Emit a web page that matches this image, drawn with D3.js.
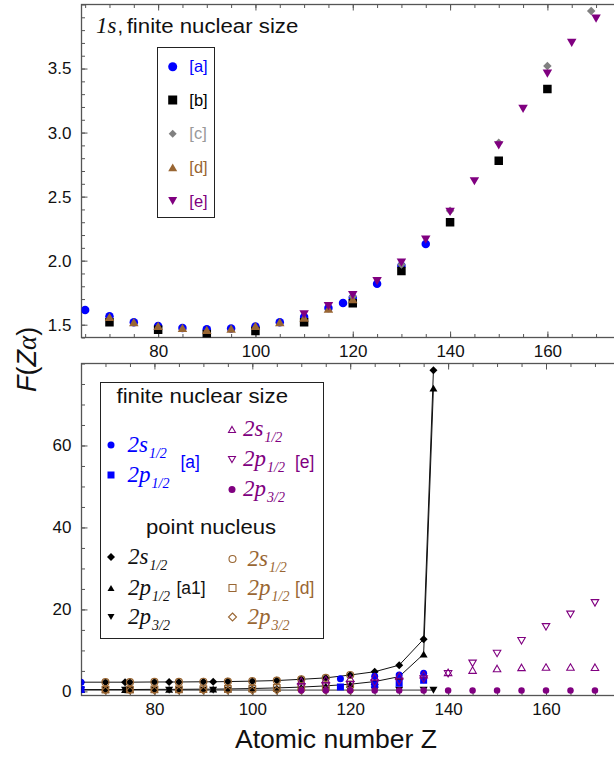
<!DOCTYPE html>
<html><head><meta charset="utf-8">
<script src="https://cdn.jsdelivr.net/npm/d3@7"></script>
<style>body{margin:0;background:#fff}svg{display:block}</style>
</head><body>
<svg id="c" width="614" height="758"></svg>
<script>
// ---------- DATA: top panel (1s, finite nuclear size) ----------
const topZa = [65,70,75,80,85,90,95,100,105,110,115,118,120,125,130,135];
const topA  = [1.615,1.565,1.52,1.49,1.475,1.465,1.47,1.485,1.52,1.56,1.63,1.67,1.71,1.82,1.96,2.13];
const topZb = [70,80,90,100,110,120,130,140,150,160];
const topB  = [1.52,1.46,1.425,1.45,1.52,1.667,1.92,2.30,2.78,3.34];
const topZc = [120,130,140,150,160,169];
const topC  = [1.72,1.97,2.39,2.92,3.52,3.95];
const topZd = [70,75,80,85,90,95,100,105,110,115,120];
const topD  = [1.56,1.52,1.49,1.475,1.46,1.47,1.49,1.52,1.555,1.625,1.70];
const topZe = [110,115,120,125,130,135,140,145,150,155,160,165,170];
const topE  = [1.58,1.645,1.73,1.84,1.985,2.165,2.38,2.62,2.90,3.185,3.46,3.70,3.89];

// ---------- DATA: bottom panel (2s/2p) ----------
// point nucleus [a1] (black, joined)
const botZa1 = [65,70,74,75,80,83,85,90,92,95,100,105,110,115,120,125,130,135,137];
const a1_2s  = [2.25,2.25,2.25,2.25,2.3,2.3,2.3,2.35,2.35,2.4,2.5,2.65,2.95,3.3,4.0,4.8,6.4,12.75,78.35];
const a1_2p1 = [0.45,0.45,0.45,0.45,0.5,0.5,0.5,0.55,0.55,0.6,0.7,0.85,1.05,1.35,1.75,2.4,3.6,9.1,74.0];
const a1_2p3 = [0.3,0.3,0.3,0.3,0.3,0.3,0.3,0.3,0.3,0.3,0.3,0.3,0.3,0.3,0.3,0.3,0.3,0.3,0.3];
// point nucleus [d] (brown, open)
const botZd = [70,75,80,85,90,95,100,105,110,115,120];
const d_2s  = [2.25,2.25,2.3,2.3,2.35,2.4,2.5,2.65,2.95,3.3,4.0];
const d_2p1 = [0.45,0.45,0.5,0.5,0.55,0.6,0.7,0.85,1.05,1.35,1.75];
const d_2p3 = [0.25,0.25,0.25,0.25,0.25,0.25,0.25,0.25,0.25,0.25,0.25];
// finite nuclear size [a] (blue)
const botZa = [65,118,125,130,135];
const a_2s  = [2.25,3.1,3.7,4.0,4.4];
const a_2p1 = [0.45,1.05,1.6,2.0,2.7];
// finite nuclear size [e] (purple)
const botZe = [110,115,120,125,130,135,140,145,150,155,160,165,170];
const e_2s  = [2.6,2.9,3.2,3.5,3.8,4.1,4.65,5.2,5.6,5.85,5.95,5.95,5.9];
const e_2p1 = [1.1,1.3,1.6,2.0,2.4,3.0,4.3,6.85,9.25,12.35,15.75,18.8,21.6];
const e_2p3 = [0.2,0.2,0.2,0.2,0.2,0.2,0.25,0.25,0.25,0.25,0.25,0.25,0.25];

// ---------- ticks ----------
const xMajor = [80,100,120,140,160];
const xMinor = d3.range(65,176,5);
const topYMajor = [1.5,2.0,2.5,3.0,3.5];
const topYMinor = d3.range(14,41).map(v=>v/10);
const botYMajor = [0,20,40,60];
const botYMinor = d3.range(0,81,5);

// ---------- setup ----------
const BLUE='#0000ff', PURPLE='#800080', BROWN='#996633', GRAY='#808080', FRAME='#555';
const SANS='"Liberation Sans", Arial, sans-serif', SERIF='"Liberation Serif", "Times New Roman", serif';
const svg = d3.select('#c');

const xTop = d3.scaleLinear().domain([64.25,174.1]).range([81.5,616]);
const yTop = d3.scaleLinear().domain([1.40,4.0]).range([337.5,4.5]);
const xBot = d3.scaleLinear().domain([65.1,174.3]).range([81.5,616]);
const yBot = d3.scaleLinear().domain([-1,80]).range([695.5,363.5]);

function shape(type, s){
  const h=s/2;
  switch(type){
    case 'circle': return `M${h},0A${h},${h} 0 1,1 ${-h},0A${h},${h} 0 1,1 ${h},0Z`;
    case 'square': return `M${-h},${-h}H${h}V${h}H${-h}Z`;
    case 'diamond': return `M0,${-h}L${h},0L0,${h}L${-h},0Z`;
    case 'up': { const t=s*0.866; return `M0,${-t/2}L${h},${t/2}L${-h},${t/2}Z`; }
    case 'down': { const t=s*0.866; return `M0,${t/2}L${h},${-t/2}L${-h},${-t/2}Z`; }
  }
}
function marks(g, xs, ys, Z, V, type, s, fill, stroke, sw){
  g.append('g').selectAll('path').data(Z.map((z,i)=>[z,V[i]])).enter().append('path')
    .attr('transform', d=>`translate(${xs(d[0])},${ys(d[1])})`)
    .attr('d', shape(type,s))
    .attr('fill', fill).attr('stroke', stroke||'none').attr('stroke-width', sw||1);
}
function styleAxis(g){
  g.select('.domain').remove();
  g.selectAll('line').attr('stroke',FRAME).attr('stroke-width',1);
  g.selectAll('text').attr('fill','#111').style('font-family',SANS).style('font-size','17px');
}
function panel(xs, ys, yMaj, yMin, yFmt, clipId){
  const [x0,x1]=xs.range(), [y0,y1]=ys.range();
  const gb = svg.append('g').attr('transform',`translate(0,${y0})`);
  gb.call(d3.axisBottom(xs).tickValues(xMajor).tickSize(-6).tickPadding(7).tickFormat(d3.format('d'))); styleAxis(gb);
  const gbm = svg.append('g').attr('transform',`translate(0,${y0})`);
  gbm.call(d3.axisBottom(xs).tickValues(xMinor).tickSize(-3.5).tickFormat('')); styleAxis(gbm);
  const gt = svg.append('g').attr('transform',`translate(0,${y1})`);
  gt.call(d3.axisTop(xs).tickValues(xMajor).tickSize(-6).tickFormat('')); styleAxis(gt);
  const gtm = svg.append('g').attr('transform',`translate(0,${y1})`);
  gtm.call(d3.axisTop(xs).tickValues(xMinor).tickSize(-3.5).tickFormat('')); styleAxis(gtm);
  const gl = svg.append('g').attr('transform',`translate(${x0},0)`);
  gl.call(d3.axisLeft(ys).tickValues(yMaj).tickSize(-6).tickPadding(10).tickFormat(yFmt)); styleAxis(gl);
  const glm = svg.append('g').attr('transform',`translate(${x0},0)`);
  glm.call(d3.axisLeft(ys).tickValues(yMin).tickSize(-3.5).tickFormat('')); styleAxis(glm);
  svg.append('rect').attr('x',x0).attr('y',y1).attr('width',x1-x0).attr('height',y0-y1)
    .attr('fill','none').attr('stroke',FRAME).attr('stroke-width',1.3);
  svg.append('clipPath').attr('id',clipId).append('rect')
    .attr('x',x0).attr('y',y1).attr('width',x1-x0).attr('height',y0-y1);
  return svg.append('g').attr('clip-path',`url(#${clipId})`);
}

// ---------- TOP PANEL ----------
const gTop = panel(xTop, yTop, topYMajor, topYMinor, d3.format('.1f'), 'clipTop');
marks(gTop,xTop,yTop,topZa,topA,'circle',8.5,BLUE);
marks(gTop,xTop,yTop,topZb,topB,'square',8.5,'#000');
marks(gTop,xTop,yTop,topZc,topC,'diamond',8.5,GRAY);
marks(gTop,xTop,yTop,topZd,topD,'up',9.5,BROWN);
marks(gTop,xTop,yTop,topZe,topE,'down',9.5,PURPLE);

// title
svg.append('text').attr('x',96).attr('y',33).attr('fill','#111')
  .style('font-family',SERIF).style('font-style','italic').style('font-size','23px').text('1s');
svg.append('text').attr('x',117.5).attr('y',33).attr('fill','#111')
  .style('font-family',SANS).style('font-size','20px').text(',');
svg.append('text').attr('x',126.7).attr('y',33).attr('fill','#111')
  .attr('textLength',171.6).attr('lengthAdjust','spacingAndGlyphs')
  .style('font-family',SANS).style('font-size','20px').text('finite nuclear size');

// top legend
svg.append('rect').attr('x',157.5).attr('y',47.5).attr('width',57).attr('height',170)
  .attr('fill','#fff').attr('stroke','#222').attr('stroke-width',1);
const topLeg = [
  {t:'[a]',type:'circle',c:BLUE,tc:BLUE,y:66.7},
  {t:'[b]',type:'square',c:'#000',tc:'#000',y:100},
  {t:'[c]',type:'diamond',c:GRAY,tc:'#999',y:133.7},
  {t:'[d]',type:'up',c:BROWN,tc:BROWN,y:167.3},
  {t:'[e]',type:'down',c:PURPLE,tc:PURPLE,y:201}
];
topLeg.forEach(d=>{
  svg.append('path').attr('transform',`translate(172.7,${d.y})`).attr('d',shape(d.type,d.type==='diamond'?8:9)).attr('fill',d.c);
  svg.append('text').attr('x',189.3).attr('y',d.y+5.5).attr('fill',d.tc)
    .style('font-family',SANS).style('font-size','16.5px').text(d.t);
});

// ---------- BOTTOM PANEL ----------
const gBot = panel(xBot, yBot, botYMajor, botYMinor, d3.format('d'), 'clipBot');
const line = (Z,V)=>d3.line().x((d,i)=>xBot(Z[i])).y(d=>yBot(d))(V);
gBot.append('path').attr('d',line(botZa1,a1_2p3)).attr('fill','none').attr('stroke','#888').attr('stroke-width',1.6);
gBot.append('path').attr('d',line(botZa1,a1_2p1)).attr('fill','none').attr('stroke','#111').attr('stroke-width',1);
gBot.append('path').attr('d',line(botZa1,a1_2s)).attr('fill','none').attr('stroke','#111').attr('stroke-width',1);
marks(gBot,xBot,yBot,botZa1,a1_2p3,'down',8,'#000');
marks(gBot,xBot,yBot,botZa1,a1_2p1,'up',8,'#000');
marks(gBot,xBot,yBot,botZa1,a1_2s,'diamond',8,'#000');
marks(gBot,xBot,yBot,botZd,d_2p3,'diamond',7,'none',BROWN,1.2);
marks(gBot,xBot,yBot,botZd,d_2p1,'square',6.5,'none',BROWN,1.2);
marks(gBot,xBot,yBot,botZd,d_2s,'circle',7,'none',BROWN,1.2);
marks(gBot,xBot,yBot,botZa,a_2p1,'square',7,BLUE);
marks(gBot,xBot,yBot,botZa,a_2s,'circle',7,BLUE);
marks(gBot,xBot,yBot,botZe,e_2p3,'circle',6.5,PURPLE);
marks(gBot,xBot,yBot,botZe,e_2s,'up',7.5,'none',PURPLE,1.1);
marks(gBot,xBot,yBot,botZe,e_2p1,'down',7.5,'none',PURPLE,1.1);

// bottom legend
svg.append('rect').attr('x',100.5).attr('y',382.5).attr('width',223).attr('height',256)
  .attr('fill','#fff').attr('stroke','#222').attr('stroke-width',1);
svg.append('text').attr('x',116.5).attr('y',403.3).attr('fill','#111')
  .attr('textLength',171.5).attr('lengthAdjust','spacingAndGlyphs')
  .style('font-family',SANS).style('font-size','20px').text('finite nuclear size');
svg.append('text').attr('x',146).attr('y',534).attr('fill','#111')
  .attr('textLength',130).attr('lengthAdjust','spacingAndGlyphs')
  .style('font-family',SANS).style('font-size','20px').text('point nucleus');

function orbital(x, y, main, sub, color){
  const t = svg.append('text').attr('x',x).attr('y',y).attr('fill',color)
    .style('font-family',SERIF).style('font-style','italic').style('font-size','23px');
  t.append('tspan').text(main);
  t.append('tspan').attr('dy',6).attr('dx',1).style('font-size','14px').text(sub);
}
const legRows = [
  {x:111, tx:127.5, y:445,   type:'circle', fill:BLUE,  stroke:null, lab:'2s', sub:'1/2', c:BLUE},
  {x:111, tx:127.5, y:475,   type:'square', fill:BLUE,  stroke:null, lab:'2p', sub:'1/2', c:BLUE},
  {x:232, tx:243,   y:429.5, type:'up',     fill:'none',stroke:PURPLE, lab:'2s', sub:'1/2', c:PURPLE},
  {x:232, tx:243,   y:459.5, type:'down',   fill:'none',stroke:PURPLE, lab:'2p', sub:'1/2', c:PURPLE},
  {x:232, tx:243,   y:489.5, type:'circle', fill:PURPLE,stroke:null, lab:'2p', sub:'3/2', c:PURPLE},
  {x:111, tx:128,   y:557,   type:'diamond',fill:'#000',stroke:null, lab:'2s', sub:'1/2', c:'#111'},
  {x:111, tx:128,   y:588,   type:'up',     fill:'#000',stroke:null, lab:'2p', sub:'1/2', c:'#111'},
  {x:111, tx:128,   y:617,   type:'down',   fill:'#000',stroke:null, lab:'2p', sub:'3/2', c:'#111'},
  {x:232.5, tx:247.5, y:559, type:'circle', fill:'none',stroke:BROWN, lab:'2s', sub:'1/2', c:BROWN},
  {x:232.5, tx:247.5, y:588, type:'square', fill:'none',stroke:BROWN, lab:'2p', sub:'1/2', c:BROWN},
  {x:232.5, tx:247.5, y:617, type:'diamond',fill:'none',stroke:BROWN, lab:'2p', sub:'3/2', c:BROWN}
];
legRows.forEach(r=>{
  svg.append('path').attr('transform',`translate(${r.x},${r.y})`)
    .attr('d',shape(r.type, r.type==='diamond'?8:7))
    .attr('fill',r.fill).attr('stroke',r.stroke||'none').attr('stroke-width',1.1);
  orbital(r.tx, r.y+6.5, r.lab, r.sub, r.c);
});
const refs = [
  {t:'[a]', x:180.4, y:467.5, c:BLUE},
  {t:'[e]', x:295,   y:467.5, c:PURPLE},
  {t:'[a1]',x:176.5, y:594,   c:'#111'},
  {t:'[d]', x:295,   y:594,   c:BROWN}
];
refs.forEach(r=>svg.append('text').attr('x',r.x).attr('y',r.y).attr('fill',r.c)
  .style('font-family',SANS).style('font-size','17.5px').text(r.t));

// ---------- axis titles ----------
svg.append('text').attr('x',235).attr('y',748).attr('fill','#111')
  .attr('textLength',202).attr('lengthAdjust','spacingAndGlyphs')
  .style('font-family',SANS).style('font-size','25px').text('Atomic number Z');
const yl = svg.append('text').attr('transform','translate(35.5,392) rotate(-90)').attr('fill','#111')
  .style('font-family',SANS).style('font-size','27px');
yl.append('tspan').style('font-style','italic').text('F');
yl.append('tspan').text('(');
yl.append('tspan').style('font-style','italic').text('Z');
yl.append('tspan').style('font-family',SERIF).style('font-style','italic').text('α');
yl.append('tspan').text(')');
</script>
</body></html>
